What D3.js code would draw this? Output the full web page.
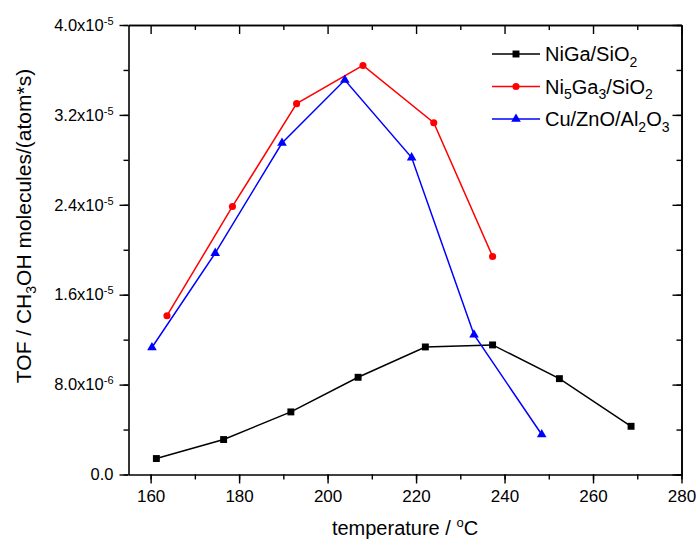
<!DOCTYPE html>
<html>
<head>
<meta charset="utf-8">
<script src="https://cdn.jsdelivr.net/npm/d3@7"></script>
<style>
  body { margin: 0; background: #fff; }
  svg text { font-family: "Liberation Sans", Arial, sans-serif; fill: #000; }
</style>
</head>
<body>
<svg id="chart" width="697" height="544"></svg>
<script>
// data
const niGaTemp = [161.3, 176.5, 191.7, 206.9, 222.1, 237.3, 252.4, 268.6];
const niGaTof = [1.42e-6, 3.11e-6, 5.57e-6, 8.65e-6, 11.35e-6, 11.53e-6, 8.53e-6, 4.29e-6];

const ni5Ga3Temp = [163.7, 178.5, 193.0, 208.0, 224.0, 237.3];
const ni5Ga3Tof = [14.13e-6, 23.85e-6, 33.0e-6, 36.4e-6, 31.3e-6, 19.4e-6];

const cuTemp = [160.3, 174.6, 189.7, 203.9, 219.0, 233.1, 248.4];
const cuTof = [11.3e-6, 19.7e-6, 29.5e-6, 35.1e-6, 28.2e-6, 12.44e-6, 3.56e-6];

const xTicks = [160, 180, 200, 220, 240, 260, 280];
const yTicks = [0, 8e-6, 1.6e-5, 2.4e-5, 3.2e-5, 4.0e-5];

const svg = d3.select('#chart');
const width = +svg.attr('width');
const height = +svg.attr('height');
const margin = { top: 25, right: 15.5, bottom: 69.5, left: 128.5 };

const x = d3.scaleLinear()
    .domain([155, 280])
    .range([margin.left, width - margin.right]);

const y = d3.scaleLinear()
    .domain([0, 4e-5])
    .range([height - margin.bottom, margin.top]);

const xMinor = d3.range(160, 281, 10);
const yMinor = d3.range(0, 4.01e-5, 4e-6);

function styleAxis(g) {
    g.select('.domain').attr('stroke', '#000').attr('stroke-width', 1.6);
    g.selectAll('.tick line').attr('stroke', '#000').attr('stroke-width', 1.4);
}

// bottom axis, ticks outward
svg.append('g')
    .attr('transform', `translate(0, ${y(0)})`)
    .call(d3.axisBottom(x).tickValues(xMinor).tickSize(5).tickSizeOuter(0).tickFormat(''))
    .call(styleAxis);
svg.append('g')
    .attr('transform', `translate(0, ${y(0)})`)
    .call(d3.axisBottom(x).tickValues(xTicks).tickSize(9).tickSizeOuter(0).tickPadding(6))
    .call(styleAxis)
    .call(g => g.select('.domain').remove())
    .selectAll('text')
    .attr('font-size', 17);

// top axis, ticks inward
svg.append('g')
    .attr('transform', `translate(0, ${y(4e-5)})`)
    .call(d3.axisBottom(x).tickValues(xMinor.filter(v => v % 20 !== 0)).tickSize(5).tickSizeOuter(0).tickFormat(''))
    .call(styleAxis);
svg.append('g')
    .attr('transform', `translate(0, ${y(4e-5)})`)
    .call(d3.axisBottom(x).tickValues(xTicks).tickSize(9).tickSizeOuter(0).tickFormat(''))
    .call(styleAxis);

// left axis, ticks outward
svg.append('g')
    .attr('transform', `translate(${x(155)}, 0)`)
    .call(d3.axisLeft(y).tickValues(yMinor).tickSize(5).tickSizeOuter(0).tickFormat(''))
    .call(styleAxis);
const yAxis = svg.append('g')
    .attr('transform', `translate(${x(155)}, 0)`)
    .call(d3.axisLeft(y).tickValues(yTicks).tickSize(9).tickSizeOuter(0).tickPadding(6))
    .call(styleAxis)
    .call(g => g.select('.domain').remove());

yAxis.selectAll('text')
    .attr('font-size', 16.5)
    .each(function (d) {
        const t = d3.select(this).text('');
        if (d === 0) {
            t.text('0.0');
            return;
        }
        const exp = Math.floor(Math.log10(d));
        const mant = d / Math.pow(10, exp);
        t.append('tspan').text(mant.toFixed(1) + 'x10');
        t.append('tspan').attr('font-size', 11).attr('dy', '-0.55em').text(exp);
    });

// right axis, ticks inward
svg.append('g')
    .attr('transform', `translate(${x(280)}, 0)`)
    .call(d3.axisLeft(y).tickValues(yMinor).tickSize(5).tickSizeOuter(0).tickFormat(''))
    .call(styleAxis);
svg.append('g')
    .attr('transform', `translate(${x(280)}, 0)`)
    .call(d3.axisLeft(y).tickValues(yTicks).tickSize(9).tickSizeOuter(0).tickFormat(''))
    .call(styleAxis);

// axis titles
const xTitle = svg.append('text')
    .attr('x', (x(155) + x(280)) / 2)
    .attr('y', 535)
    .attr('text-anchor', 'middle')
    .attr('font-size', 20);
xTitle.append('tspan').text('temperature / ');
xTitle.append('tspan').attr('font-size', 13).attr('dy', '-0.6em').text('o');
xTitle.append('tspan').attr('font-size', 20).attr('dy', '0.4em').text('C');

const yTitle = svg.append('text')
    .attr('transform', 'translate(31, 226) rotate(-90)')
    .attr('text-anchor', 'middle')
    .attr('font-size', 21);
yTitle.append('tspan').text('TOF / CH');
yTitle.append('tspan').attr('font-size', 14).attr('dy', '0.35em').text('3');
yTitle.append('tspan').attr('font-size', 21).attr('dy', '-0.23em').text('OH molecules/(atom*s)');

// series
const series = [
    { name: 'NiGa', temp: niGaTemp, tof: niGaTof, color: '#000000', symbol: d3.symbolSquare, size: 48 },
    { name: 'Ni5Ga3', temp: ni5Ga3Temp, tof: ni5Ga3Tof, color: '#ff0000', symbol: d3.symbolCircle, size: 40 },
    { name: 'Cu', temp: cuTemp, tof: cuTof, color: '#0000ff', symbol: d3.symbolTriangle, size: 40 }
];

const line = d3.line()
    .x(d => x(d[0]))
    .y(d => y(d[1]));

series.forEach(s => {
    const pts = s.temp.map((t, i) => [t, s.tof[i]]);
    svg.append('path')
        .datum(pts)
        .attr('fill', 'none')
        .attr('stroke', s.color)
        .attr('stroke-width', 1.5)
        .attr('d', line);
    svg.selectAll(null)
        .data(pts)
        .enter().append('path')
        .attr('transform', d => `translate(${x(d[0])}, ${y(d[1])})`)
        .attr('d', d3.symbol().type(s.symbol).size(s.size))
        .attr('fill', s.color);
});

// legend
const legendRows = [54, 86.5, 119];
const legend = svg.append('g');
series.forEach((s, i) => {
    const ly = legendRows[i];
    legend.append('line')
        .attr('x1', 492).attr('x2', 540)
        .attr('y1', ly).attr('y2', ly)
        .attr('stroke', s.color)
        .attr('stroke-width', 1.5);
    legend.append('path')
        .attr('transform', `translate(516, ${ly})`)
        .attr('d', d3.symbol().type(s.symbol).size(s.size))
        .attr('fill', s.color);
});

// each part: [text, isSubscript]
function legendText(i, parts) {
    const t = legend.append('text')
        .attr('x', 545)
        .attr('y', legendRows[i] + 7)
        .attr('font-size', 20);
    let down = false;
    parts.forEach(p => {
        const sp = t.append('tspan').text(p[0]);
        if (p[1]) {
            sp.attr('font-size', 14).attr('dy', down ? 0 : '0.4em');
            down = true;
        } else {
            sp.attr('font-size', 20).attr('dy', down ? '-0.28em' : 0);
            down = false;
        }
    });
}
legendText(0, [['NiGa/SiO'], ['2', true]]);
legendText(1, [['Ni'], ['5', true], ['Ga'], ['3', true], ['/SiO'], ['2', true]]);
legendText(2, [['Cu/ZnO/Al'], ['2', true], ['O'], ['3', true]]);
</script>
</body>
</html>
